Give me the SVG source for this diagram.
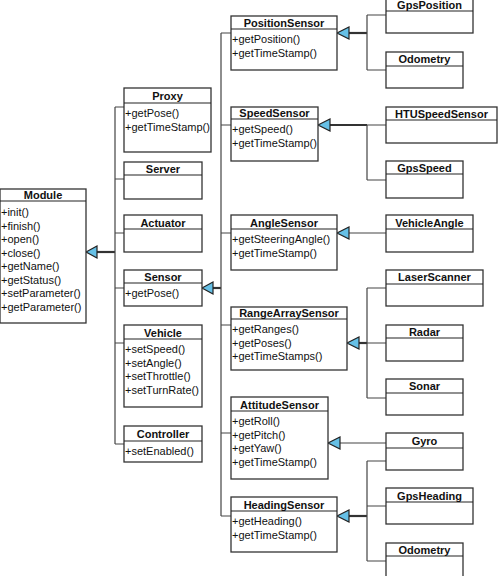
<svg xmlns="http://www.w3.org/2000/svg" width="498" height="576" viewBox="0 0 498 576">
<defs>
<style>
.box{fill:#fff;stroke:#333;stroke-width:1.3}
.hdr{stroke:#222;stroke-width:1.2}
.t{font-family:"Liberation Sans",Arial,sans-serif;font-size:11px;font-weight:bold;fill:#111;text-anchor:middle}
.m{font-family:"Liberation Sans",Arial,sans-serif;font-size:11px;fill:#111}
.c{fill:none;stroke:#444;stroke-width:1.2}
.k{fill:none;stroke:#333;stroke-width:2.2}
.tri{fill:#66C0E6;stroke:#222;stroke-width:1.2}
</style>
</defs>
<rect width="498" height="576" fill="#fff"/>
<g id="connectors">
<!-- Module hierarchy -->
<path class="k" d="M97,252 H115"/>
<path class="c" d="M115,107 V444 M115,107 H124 M115,179 H124 M115,233 H124 M115,288 H124 M115,343 H124 M115,444 H124"/>
<polygon class="tri" points="86,252 97,246 97,258"/>
<!-- Sensor hierarchy -->
<path class="k" d="M213,288 H221"/>
<path class="c" d="M221,33 V516 M221,33 H231 M221,125 H231 M221,233 H231 M221,325 H231 M221,433 H231 M221,516 H231"/>
<polygon class="tri" points="202,288 213,282 213,294"/>
<!-- PositionSensor -->
<path class="k" d="M349,33 H367"/>
<path class="c" d="M367,15 V70 M367,15 H386 M367,70 H386"/>
<polygon class="tri" points="337,33 349,27 349,39"/>
<!-- SpeedSensor -->
<path class="k" d="M330,125 H367"/>
<path class="c" d="M367,125 V180 M367,125 H386 M367,180 H386"/>
<polygon class="tri" points="318,125 330,119 330,131"/>
<!-- AngleSensor -->
<path class="c" d="M349,233 H386"/>
<polygon class="tri" points="337,233 349,227 349,239"/>
<!-- RangeArraySensor -->
<path class="k" d="M359,343 H367"/>
<path class="c" d="M367,288 V398 M367,288 H386 M367,343 H386 M367,398 H386"/>
<polygon class="tri" points="347,343 359,337 359,349"/>
<!-- AttitudeSensor -->
<path class="c" d="M340,443 H386"/>
<polygon class="tri" points="328,443 340,437 340,449"/>
<!-- HeadingSensor -->
<path class="k" d="M349,516 H367"/>
<path class="c" d="M367,461 V561 M367,461 H386 M367,506 H386 M367,561 H386"/>
<polygon class="tri" points="337,516 349,510 349,522"/>
</g>

<g id="Module">
<rect class="box" x="0" y="189" width="86" height="134"/>
<line class="hdr" x1="0" y1="201" x2="86" y2="201"/>
<text class="t" x="43" y="199">Module</text>
<text class="m" x="1" y="216">+init()</text>
<text class="m" x="1" y="229.5">+finish()</text>
<text class="m" x="1" y="243">+open()</text>
<text class="m" x="1" y="256.5">+close()</text>
<text class="m" x="1" y="270">+getName()</text>
<text class="m" x="1" y="283.5">+getStatus()</text>
<text class="m" x="1" y="297">+setParameter()</text>
<text class="m" x="1" y="310.5">+getParameter()</text>
</g>

<g id="Proxy">
<rect class="box" x="124" y="88" width="87" height="64"/>
<line class="hdr" x1="124" y1="103" x2="211" y2="103"/>
<text class="t" x="167.5" y="100">Proxy</text>
<text class="m" x="125" y="117">+getPose()</text>
<text class="m" x="125" y="130.5">+getTimeStamp()</text>
</g>

<g id="Server">
<rect class="box" x="124" y="162" width="78" height="37"/>
<line class="hdr" x1="124" y1="175" x2="202" y2="175"/>
<text class="t" x="163" y="173">Server</text>
</g>

<g id="Actuator">
<rect class="box" x="124" y="215" width="78" height="37"/>
<line class="hdr" x1="124" y1="229" x2="202" y2="229"/>
<text class="t" x="163" y="227">Actuator</text>
</g>

<g id="Sensor">
<rect class="box" x="124" y="270" width="78" height="36"/>
<line class="hdr" x1="124" y1="283" x2="202" y2="283"/>
<text class="t" x="163" y="281">Sensor</text>
<text class="m" x="125" y="297">+getPose()</text>
</g>

<g id="Vehicle">
<rect class="box" x="124" y="325" width="78" height="82"/>
<line class="hdr" x1="124" y1="339" x2="202" y2="339"/>
<text class="t" x="163" y="337">Vehicle</text>
<text class="m" x="125" y="353">+setSpeed()</text>
<text class="m" x="125" y="366.5">+setAngle()</text>
<text class="m" x="125" y="380">+setThrottle()</text>
<text class="m" x="125" y="393.5">+setTurnRate()</text>
</g>

<g id="Controller">
<rect class="box" x="124" y="426" width="78" height="36"/>
<line class="hdr" x1="124" y1="441" x2="202" y2="441"/>
<text class="t" x="163" y="438">Controller</text>
<text class="m" x="125" y="455">+setEnabled()</text>
</g>

<g id="PositionSensor">
<rect class="box" x="231" y="16" width="106" height="54"/>
<line class="hdr" x1="231" y1="29" x2="337" y2="29"/>
<text class="t" x="284" y="27">PositionSensor</text>
<text class="m" x="232" y="43">+getPosition()</text>
<text class="m" x="232" y="56.5">+getTimeStamp()</text>
</g>

<g id="SpeedSensor">
<rect class="box" x="231" y="107" width="87" height="54"/>
<line class="hdr" x1="231" y1="119" x2="318" y2="119"/>
<text class="t" x="274.5" y="117">SpeedSensor</text>
<text class="m" x="232" y="133">+getSpeed()</text>
<text class="m" x="232" y="146.5">+getTimeStamp()</text>
</g>

<g id="AngleSensor">
<rect class="box" x="231" y="215" width="106" height="55"/>
<line class="hdr" x1="231" y1="229" x2="337" y2="229"/>
<text class="t" x="284" y="227">AngleSensor</text>
<text class="m" x="232" y="243">+getSteeringAngle()</text>
<text class="m" x="232" y="256.5">+getTimeStamp()</text>
</g>

<g id="RangeArraySensor">
<rect class="box" x="231" y="307" width="116" height="63"/>
<line class="hdr" x1="231" y1="319" x2="347" y2="319"/>
<text class="t" x="289" y="317">RangeArraySensor</text>
<text class="m" x="232" y="333">+getRanges()</text>
<text class="m" x="232" y="346.5">+getPoses()</text>
<text class="m" x="232" y="360">+getTimeStamps()</text>
</g>

<g id="AttitudeSensor">
<rect class="box" x="231" y="397" width="97" height="82"/>
<line class="hdr" x1="231" y1="411" x2="328" y2="411"/>
<text class="t" x="279.5" y="409">AttitudeSensor</text>
<text class="m" x="232" y="425">+getRoll()</text>
<text class="m" x="232" y="438.5">+getPitch()</text>
<text class="m" x="232" y="452">+getYaw()</text>
<text class="m" x="232" y="465.5">+getTimeStamp()</text>
</g>

<g id="HeadingSensor">
<rect class="box" x="231" y="497" width="106" height="55"/>
<line class="hdr" x1="231" y1="511" x2="337" y2="511"/>
<text class="t" x="284" y="509">HeadingSensor</text>
<text class="m" x="232" y="525">+getHeading()</text>
<text class="m" x="232" y="538.5">+getTimeStamp()</text>
</g>

<g id="GpsPosition">
<rect class="box" x="386" y="-1" width="87" height="34"/>
<line class="hdr" x1="386" y1="11" x2="473" y2="11"/>
<text class="t" x="429.5" y="9">GpsPosition</text>
</g>

<g id="Odometry1">
<rect class="box" x="386" y="52" width="77" height="36"/>
<line class="hdr" x1="386" y1="66" x2="463" y2="66"/>
<text class="t" x="424.5" y="63">Odometry</text>
</g>

<g id="HTUSpeedSensor">
<rect class="box" x="386" y="107" width="111" height="36"/>
<line class="hdr" x1="386" y1="120" x2="497" y2="120"/>
<text class="t" x="441.5" y="118">HTUSpeedSensor</text>
</g>

<g id="GpsSpeed">
<rect class="box" x="386" y="161" width="77" height="37"/>
<line class="hdr" x1="386" y1="174" x2="463" y2="174"/>
<text class="t" x="424.5" y="172">GpsSpeed</text>
</g>

<g id="VehicleAngle">
<rect class="box" x="386" y="215" width="87" height="37"/>
<line class="hdr" x1="386" y1="229" x2="473" y2="229"/>
<text class="t" x="429.5" y="227">VehicleAngle</text>
</g>

<g id="LaserScanner">
<rect class="box" x="386" y="270" width="97" height="36"/>
<line class="hdr" x1="386" y1="284" x2="483" y2="284"/>
<text class="t" x="434.5" y="281">LaserScanner</text>
</g>

<g id="Radar">
<rect class="box" x="386" y="325" width="77" height="36"/>
<line class="hdr" x1="386" y1="338" x2="463" y2="338"/>
<text class="t" x="424.5" y="336">Radar</text>
</g>

<g id="Sonar">
<rect class="box" x="386" y="379" width="77" height="36"/>
<line class="hdr" x1="386" y1="393" x2="463" y2="393"/>
<text class="t" x="424.5" y="390">Sonar</text>
</g>

<g id="Gyro">
<rect class="box" x="386" y="433" width="77" height="37"/>
<line class="hdr" x1="386" y1="448" x2="463" y2="448"/>
<text class="t" x="424.5" y="445">Gyro</text>
</g>

<g id="GpsHeading">
<rect class="box" x="386" y="488" width="87" height="36"/>
<line class="hdr" x1="386" y1="502" x2="473" y2="502"/>
<text class="t" x="429.5" y="500">GpsHeading</text>
</g>

<g id="Odometry2">
<rect class="box" x="386" y="543" width="77" height="40"/>
<line class="hdr" x1="386" y1="556" x2="463" y2="556"/>
<text class="t" x="424.5" y="554">Odometry</text>
</g>
</svg>
